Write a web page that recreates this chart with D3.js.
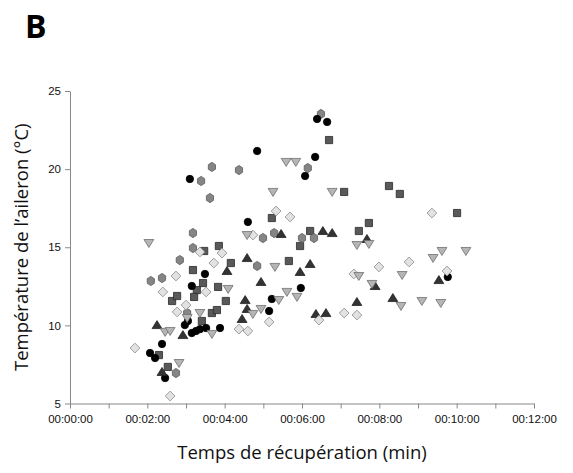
<!DOCTYPE html>
<html><head><meta charset="utf-8">
<script src="https://cdn.jsdelivr.net/npm/d3@7/dist/d3.min.js"></script>
<style>body{margin:0;background:#fff}svg{display:block}</style>
</head><body><svg id="c" width="573" height="473"></svg>
<script>
// [minutes, temperature °C]
const circlesBlack = [[2.07,8.23],[2.20,7.91],[2.38,8.81],[2.46,6.63],[3.10,19.37],[3.15,12.52],[3.49,13.29],[2.97,10.02],[3.05,10.28],[3.15,9.51],[3.26,9.64],[3.36,9.76],[3.52,9.83],[3.88,9.83],[4.84,21.16],[6.39,23.21],[6.65,23.02],[6.34,20.78],[6.08,19.56],[4.60,16.62],[5.97,12.39],[5.22,11.69],[5.15,10.92],[9.77,13.10]];
const hexagonsGray = [[2.09,12.84],[2.38,13.03],[2.84,14.18],[3.18,15.91],[3.18,14.95],[3.39,19.24],[3.67,20.14],[3.62,18.15],[2.74,6.95],[3.03,10.79],[4.37,19.94],[6.49,23.53],[6.15,20.07],[5.28,15.91],[4.99,15.59],[6.00,15.59],[6.31,15.59],[4.84,13.80]];
const squaresDark = [[2.30,8.10],[2.53,7.34],[2.64,11.56],[2.77,11.88],[3.18,13.54],[3.28,12.26],[3.21,11.82],[3.44,12.71],[3.47,14.76],[3.85,15.08],[3.83,12.46],[3.41,10.28],[3.67,10.79],[3.80,10.98],[4.03,11.56],[4.16,13.99],[5.66,14.12],[5.95,15.08],[6.21,16.04],[5.22,16.87],[6.70,21.86],[7.09,18.54],[8.25,18.92],[8.53,18.41],[10.01,17.19],[7.73,16.55],[7.47,16.04]];
const trianglesUp = [[2.25,10.02],[2.92,9.38],[2.38,7.02],[4.06,13.48],[4.58,14.31],[4.94,12.78],[6.21,13.93],[5.95,13.42],[4.53,11.62],[4.58,11.05],[4.45,10.41],[6.36,10.73],[6.62,10.79],[5.46,15.85],[6.54,16.04],[6.78,15.91],[7.68,15.53],[7.89,12.52],[7.42,11.50],[8.35,11.75],[9.54,12.90]];
const trianglesDown = [[2.04,15.27],[2.46,9.58],[2.59,9.64],[2.82,7.59],[3.03,10.47],[3.36,10.79],[3.67,9.45],[5.59,20.46],[5.84,20.46],[5.25,18.54],[6.78,18.54],[4.58,15.78],[5.30,13.74],[4.09,12.33],[5.61,12.14],[5.87,11.82],[5.40,11.62],[4.94,11.05],[4.73,10.73],[7.42,15.14],[7.73,15.21],[9.62,14.76],[9.39,14.31],[10.24,14.76],[7.47,13.16],[8.59,13.22],[7.81,12.65],[8.56,11.24],[9.10,11.56],[9.59,11.43]];
const diamondsLight = [[1.68,8.55],[2.59,5.48],[2.40,12.14],[2.74,13.16],[2.77,10.86],[3.00,11.30],[3.36,14.70],[3.52,12.14],[3.93,14.63],[3.72,13.99],[5.33,17.32],[5.69,16.94],[4.73,15.78],[4.37,9.76],[4.60,9.64],[5.15,10.22],[6.44,10.34],[9.36,17.19],[7.99,13.74],[8.77,14.06],[7.34,13.29],[9.75,13.48],[7.09,10.79],[7.42,10.66]];
const xTicks = [0,1,2,3,4,5,6,7,8,9,10,11,12];
const xTickLabels = ["00:00:00","","00:02:00","","00:04:00","","00:06:00","","00:08:00","","00:10:00","","00:12:00"];
const yTicks = [5,10,15,20,25];

const svg = d3.select("#c");
const m = {l:70, r:39, t:91, b:69};
const W = 573, H = 473;
const x = d3.scaleLinear().domain([0,12]).range([m.l, W-m.r]);
const y = d3.scaleLinear().domain([5,25]).range([H-m.b-0.5, m.t]);

// axes
const gx = svg.append("g").attr("transform",`translate(0,${y(5)})`)
  .call(d3.axisBottom(x).tickValues(xTicks).tickSize(5).tickSizeOuter(0)
    .tickFormat((d,i)=>xTickLabels[i]));
const gy = svg.append("g").attr("transform",`translate(${x(0)},0)`)
  .call(d3.axisLeft(y).tickValues(yTicks).tickSize(5).tickSizeOuter(0));
[gx,gy].forEach(g=>{
  g.selectAll(".domain,.tick line").attr("stroke","#888").attr("stroke-width",1);
  g.selectAll("text").attr("fill","#111").style("font-family","'Liberation Sans',Arial,sans-serif").style("font-size","11.5px");
});
gx.selectAll("text").attr("dy","1.0em");
gy.selectAll("text").attr("dx","-1px");

// symbols
const hexType = {draw(ctx, r){ for(let i=0;i<6;i++){const a=Math.PI/6+i*Math.PI/3; const px=r*Math.cos(a)*0.9, py=r*Math.sin(a); i?ctx.lineTo(px,py):ctx.moveTo(px,py);} ctx.closePath(); }};
const diaType = {draw(ctx, r){ ctx.moveTo(0,-r); ctx.lineTo(r,0); ctx.lineTo(0,r); ctx.lineTo(-r,0); ctx.closePath(); }};
const sqType = {draw(ctx, r){ ctx.rect(-r,-r,2*r,2*r); }};
const triUp = {draw(ctx, r){ ctx.moveTo(0,-r*0.95); ctx.lineTo(r*1.05,r*0.75); ctx.lineTo(-r*1.05,r*0.75); ctx.closePath(); }};
const triDown = {draw(ctx, r){ ctx.moveTo(0,r*0.95); ctx.lineTo(r*1.05,-r*0.75); ctx.lineTo(-r*1.05,-r*0.75); ctx.closePath(); }};
const circType = {draw(ctx, r){ ctx.moveTo(r,0); ctx.arc(0,0,r,0,2*Math.PI); }};

const series = [
  {data:squaresDark, type:sqType, size:3.6, fill:"#595959", stroke:"#2a2a2a"},
  {data:hexagonsGray, type:hexType, size:4.6, fill:"#858585", stroke:"#5a5a5a"},
  {data:circlesBlack, type:circType, size:3.7, fill:"#000", stroke:"#000"},
  {data:trianglesUp, type:triUp, size:4.7, fill:"#333", stroke:"#222"},
  {data:diamondsLight, type:diaType, size:4.9, fill:"#e2e2e2", stroke:"#8a8a8a"},
  {data:trianglesDown, type:triDown, size:4.7, fill:"#b5b5b5", stroke:"#707070"},
];
series.forEach(s=>{
  const sym = d3.symbol().type(s.type).size(s.size);
  svg.append("g").selectAll("path").data(s.data).join("path")
    .attr("transform",d=>`translate(${x(d[0])},${y(d[1])})`)
    .attr("d",sym).attr("fill",s.fill).attr("stroke",s.stroke).attr("stroke-width",0.8);
});

// titles
svg.append("text").attr("x",25).attr("y",38).text("B")
  .style("font-family","'Open Sans','Liberation Sans',sans-serif").style("font-weight","bold").style("font-size","32px").attr("fill","#000");
svg.append("text").attr("x",(x(0)+x(12))/2).attr("y",459).attr("text-anchor","middle")
  .text("Temps de récupération (min)")
  .style("font-family","'Open Sans',sans-serif").style("font-size","18.5px").attr("fill","#111");
svg.append("text").attr("transform",`translate(28,${(y(5)+y(25))/2}) rotate(-90)`).attr("text-anchor","middle")
  .text("Température de l’aileron (°C)")
  .style("font-family","'Open Sans',sans-serif").style("font-size","18.5px").attr("fill","#111");
</script></body></html>
